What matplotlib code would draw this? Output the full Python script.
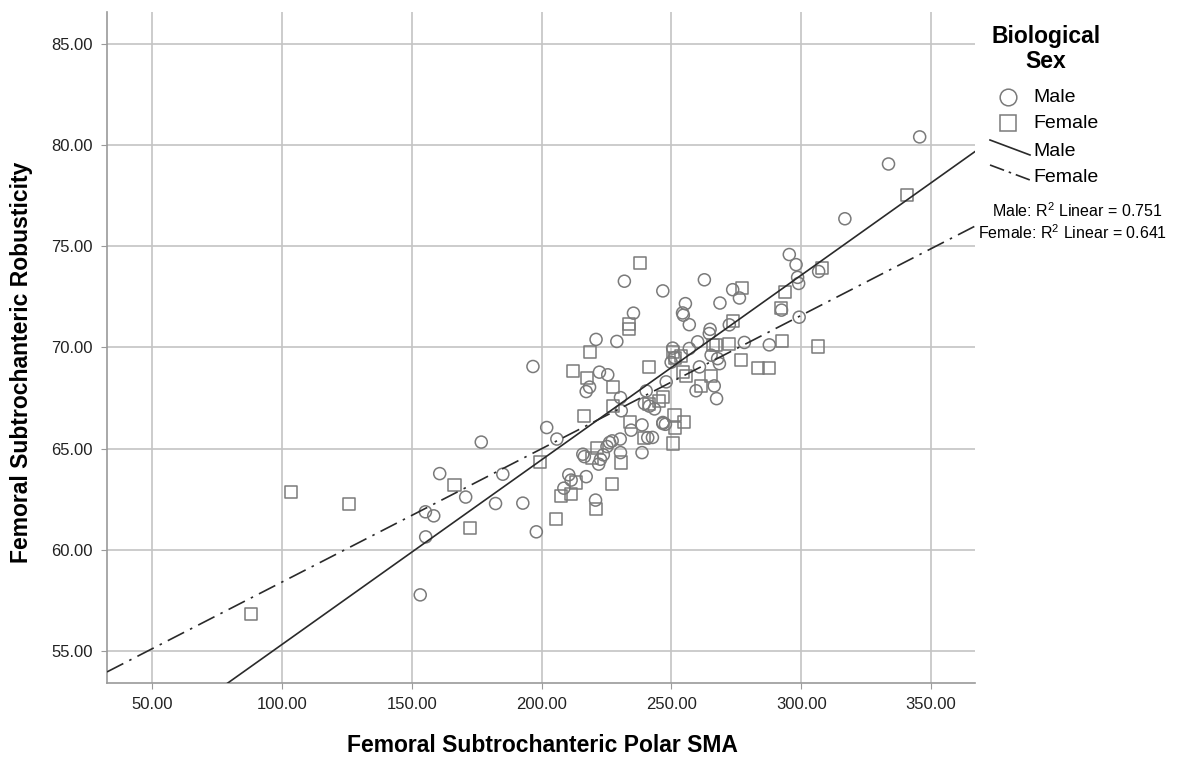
import numpy as np
import matplotlib
matplotlib.use("Agg")
import matplotlib.pyplot as plt
from matplotlib.lines import Line2D

plt.rcParams['font.family'] = ['Liberation Sans', 'DejaVu Sans']
plt.rcParams['mathtext.fontset'] = 'custom'
plt.rcParams['mathtext.rm'] = 'Liberation Sans'
plt.rcParams['mathtext.it'] = 'Liberation Sans:italic'

# Polar SMA (x) and robusticity (y) for each sex
male_sma = [160.8, 170.8, 155.3, 158.5, 155.4, 153.3, 176.8, 185.1, 182.3, 192.8,
            198.0, 202.0, 205.9, 215.9, 216.5, 222.0, 222.7, 223.8, 226.2, 227.2,
            230.3, 230.4, 238.7, 217.2, 210.5, 211.4, 208.6, 220.8, 230.7, 234.5,
            238.7, 240.9, 242.7, 239.6, 246.7, 225.2, 249.9, 251.2, 256.9, 260.1,
            264.6, 265.3, 267.8, 268.5, 260.8, 248.0, 266.5, 259.5, 267.4, 240.3,
            241.5, 243.5, 246.7, 247.7, 278.1, 287.7, 231.9, 246.7, 235.4, 221.0,
            229.0, 262.7, 273.6, 276.2, 268.7, 255.4, 254.3, 254.6, 256.9, 272.3,
            264.9, 250.5, 222.3, 225.5, 218.5, 217.2, 230.4, 196.7, 316.8, 295.4,
            298.0, 298.6, 299.0, 306.7, 292.4, 299.2, 345.6, 333.6]
male_rob = [63.76, 62.60, 61.87, 61.67, 60.63, 57.76, 65.32, 63.73, 62.28, 62.30,
            60.88, 66.04, 65.47, 64.72, 64.60, 64.23, 64.47, 64.69, 65.30, 65.38,
            65.47, 64.80, 64.80, 63.61, 63.70, 63.44, 63.04, 62.45, 66.87, 65.91,
            66.17, 65.54, 65.55, 67.23, 66.29, 65.10, 69.27, 69.50, 69.95, 70.28,
            70.69, 69.62, 69.45, 69.20, 69.04, 68.30, 68.10, 67.86, 67.47, 67.85,
            67.10, 66.96, 66.24, 66.20, 70.25, 70.13, 73.28, 72.80, 71.70, 70.40,
            70.30, 73.35, 72.86, 72.45, 72.20, 72.17, 71.71, 71.60, 71.13, 71.12,
            70.90, 69.97, 68.78, 68.65, 68.04, 67.82, 67.52, 69.06, 76.37, 74.60,
            74.10, 73.47, 73.17, 73.76, 71.85, 71.50, 80.42, 79.08]

female_sma = [88.3, 103.7, 125.9, 166.5, 172.6, 199.6, 216.2, 205.4, 221.4, 219.5,
              230.7, 227.2, 213.1, 207.6, 211.4, 221.0, 227.4, 234.1, 239.3, 250.8,
              251.5, 255.0, 241.5, 250.5, 251.5, 253.7, 267.2, 272.3, 254.3, 255.6,
              265.3, 261.4, 246.7, 245.4, 251.2, 276.8, 283.2, 287.7, 292.6, 238.1,
              233.5, 233.5, 218.6, 277.2, 273.8, 265.9, 212.3, 217.4, 227.4, 241.3,
              340.9, 308.0, 293.8, 292.2, 306.3]
female_rob = [56.80, 62.87, 62.25, 63.20, 61.09, 64.34, 66.63, 61.50, 65.05, 64.55,
              64.31, 63.24, 63.32, 62.66, 62.77, 62.00, 67.11, 66.29, 65.54, 65.25,
              66.04, 66.29, 69.05, 69.77, 69.50, 69.60, 70.12, 70.15, 68.80, 68.60,
              68.60, 68.10, 67.57, 67.34, 66.68, 69.37, 68.98, 68.98, 70.30, 74.18,
              71.16, 70.90, 69.80, 72.94, 71.30, 70.10, 68.86, 68.51, 68.04, 67.21,
              77.55, 73.93, 72.77, 71.95, 70.05]

# Linear fit lines: (intercept, slope) and R squared
male_fit = (46.16, 0.0914)
female_fit = (51.79, 0.0660)
male_r2 = 0.751
female_r2 = 0.641

x_ticks = [50, 100, 150, 200, 250, 300, 350]
y_ticks = [55, 60, 65, 70, 75, 80, 85]
x_range = (32.7, 366.9)
y_range = (53.4, 86.6)

W, H = 1177, 758
fig = plt.figure(figsize=(W / 100, H / 100), dpi=100)
ax = fig.add_axes([107 / W, 75 / H, 868 / W, 671 / H])

grid_c = '#c4c4c4'
ax.set_xlim(*x_range)
ax.set_ylim(*y_range)
ax.set_xticks(x_ticks)
ax.set_yticks(y_ticks)
ax.set_xticklabels([f'{v:.2f}' for v in x_ticks], fontsize=12, color='#222222')
ax.set_yticklabels([f'{v:.2f}' for v in y_ticks], fontsize=12, color='#222222')
ax.grid(True, color=grid_c, linewidth=1.2)
ax.set_axisbelow(True)
for s in ('top', 'right'):
    ax.spines[s].set_visible(False)
for s in ('left', 'bottom'):
    ax.spines[s].set_color('#9a9a9a')
    ax.spines[s].set_linewidth(1.2)
ax.tick_params(axis='both', length=4, color='#9a9a9a', pad=6)

ax.set_xlabel('Femoral Subtrochanteric Polar SMA', fontsize=16.5, fontweight='bold')
ax.set_ylabel('Femoral Subtrochanteric Robusticity', fontsize=16.5, fontweight='bold')
ax.xaxis.label.set_va('center')
ax.yaxis.label.set_va('center')
ax.xaxis.set_label_coords((542 - 107) / 868, (683 - 746) / 671)
ax.yaxis.set_label_coords((22 - 107) / 868, (683 - 362) / 671)

pt_c = '#7a7a7a'
ax.scatter(male_sma, male_rob, marker='o', s=75, facecolors='none',
           edgecolors=pt_c, linewidths=1.1, zorder=3)
ax.scatter(female_sma, female_rob, marker='s', s=75, facecolors='none',
           edgecolors=pt_c, linewidths=1.1, zorder=3)

xs = np.array(x_range)
line_c = '#2a2a2a'
dashdot = (0, (11, 4, 1.5, 4))
ax.plot(xs, male_fit[0] + male_fit[1] * xs, color=line_c, lw=1.2, zorder=4)
ax.plot(xs, female_fit[0] + female_fit[1] * xs, color=line_c, lw=1.2,
        linestyle=dashdot, zorder=4)


# Legend, placed in figure pixel coordinates
def fx(px):
    return px / W


def fy(py):
    return 1 - py / H


fig.text(fx(1046), fy(49), 'Biological\nSex', ha='center', va='center',
         fontsize=16.5, fontweight='bold', linespacing=1.12)
fig.add_artist(Line2D([fx(1008)], [fy(97)], marker='o', markersize=12,
                      markerfacecolor='none', markeredgecolor=pt_c, markeredgewidth=1.1))
fig.add_artist(Line2D([fx(1008)], [fy(123)], marker='s', markersize=12,
                      markerfacecolor='none', markeredgecolor=pt_c, markeredgewidth=1.1))
fig.text(fx(1033), fy(98), 'Male', ha='left', va='center', fontsize=14)
fig.text(fx(1033), fy(124), 'Female', ha='left', va='center', fontsize=14)
fig.add_artist(Line2D([fx(990), fx(1030)], [fy(140), fy(155)], color=line_c, lw=1.2))
fig.add_artist(Line2D([fx(990), fx(1030)], [fy(165), fy(180)], color=line_c, lw=1.2,
                      linestyle=(0, (9, 3, 1.5, 3))))
fig.text(fx(1033), fy(151), 'Male', ha='left', va='center', fontsize=14)
fig.text(fx(1033), fy(177), 'Female', ha='left', va='center', fontsize=14)
fig.text(fx(1077), fy(211), f'Male: R$^2$ Linear = {male_r2:.3f}', ha='center',
         va='center', fontsize=11.5)
fig.text(fx(1073), fy(233), f'Female: R$^2$ Linear = {female_r2:.3f}', ha='center',
         va='center', fontsize=11.5)

fig.savefig('out.png', dpi=100, facecolor='white')
